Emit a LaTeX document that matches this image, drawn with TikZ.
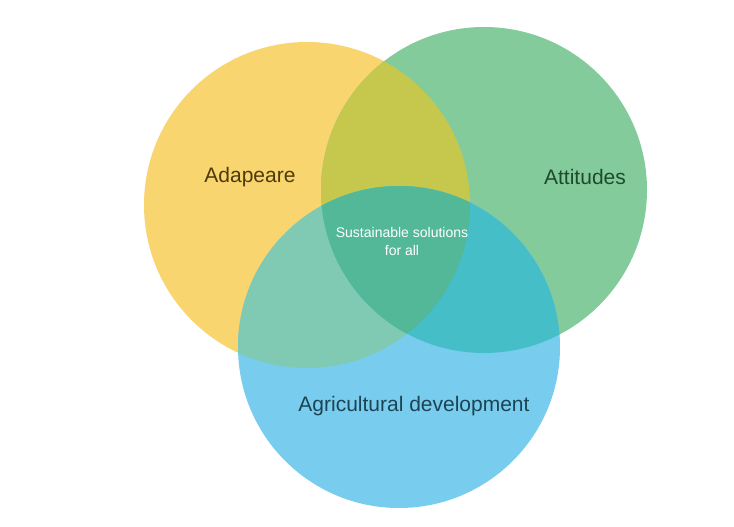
\documentclass[tikz,border=0pt]{standalone}
\usepackage{fontspec}
\setmainfont{Liberation Sans}
\definecolor{cy}{HTML}{F8D56E}
\definecolor{cg}{HTML}{84CB9C}
\definecolor{cb}{HTML}{78CDEE}
\definecolor{cyg}{HTML}{C6C84E}
\definecolor{cyb}{HTML}{80C9B2}
\definecolor{cgb}{HTML}{46BEC8}
\definecolor{cc}{HTML}{52B898}
\definecolor{ty}{HTML}{4E3A0C}
\definecolor{tg}{HTML}{1F4A2A}
\definecolor{tb}{HTML}{1C4454}
\tikzset{lbl/.style={font=\fontsize{21}{24}\selectfont},
  ctr/.style={font=\fontsize{14}{18}\selectfont, text=white, align=center}}
\begin{document}
\begin{tikzpicture}[x=1pt,y=-1pt]
\useasboundingbox (0,0) rectangle (734,527);
\fill[white] (0,0) rectangle (734,527);
\def\Y{(307,205) circle[radius=163]}
\def\G{(484,190) circle[radius=163]}
\def\B{(399,347) circle[radius=161]}
\fill[cy] \Y;
\fill[cg] \G;
\fill[cb] \B;
\begin{scope}\clip \Y; \fill[cyg] \G; \end{scope}
\begin{scope}\clip \Y; \fill[cyb] \B; \end{scope}
\begin{scope}\clip \G; \fill[cgb] \B; \end{scope}
\begin{scope}\clip \Y; \clip \G; \fill[cc] \B; \end{scope}
\node[lbl, text=ty] (a) at (250,177) {Adapeare};
\node[lbl, text=tg] (b) at (585,177) {Attitudes};
\node[lbl, text=tb] (c) at (414,406) {Agricultural development};
\node[ctr] (d) at (402,241) {Sustainable solutions\\for all};
\end{tikzpicture}
\end{document}
